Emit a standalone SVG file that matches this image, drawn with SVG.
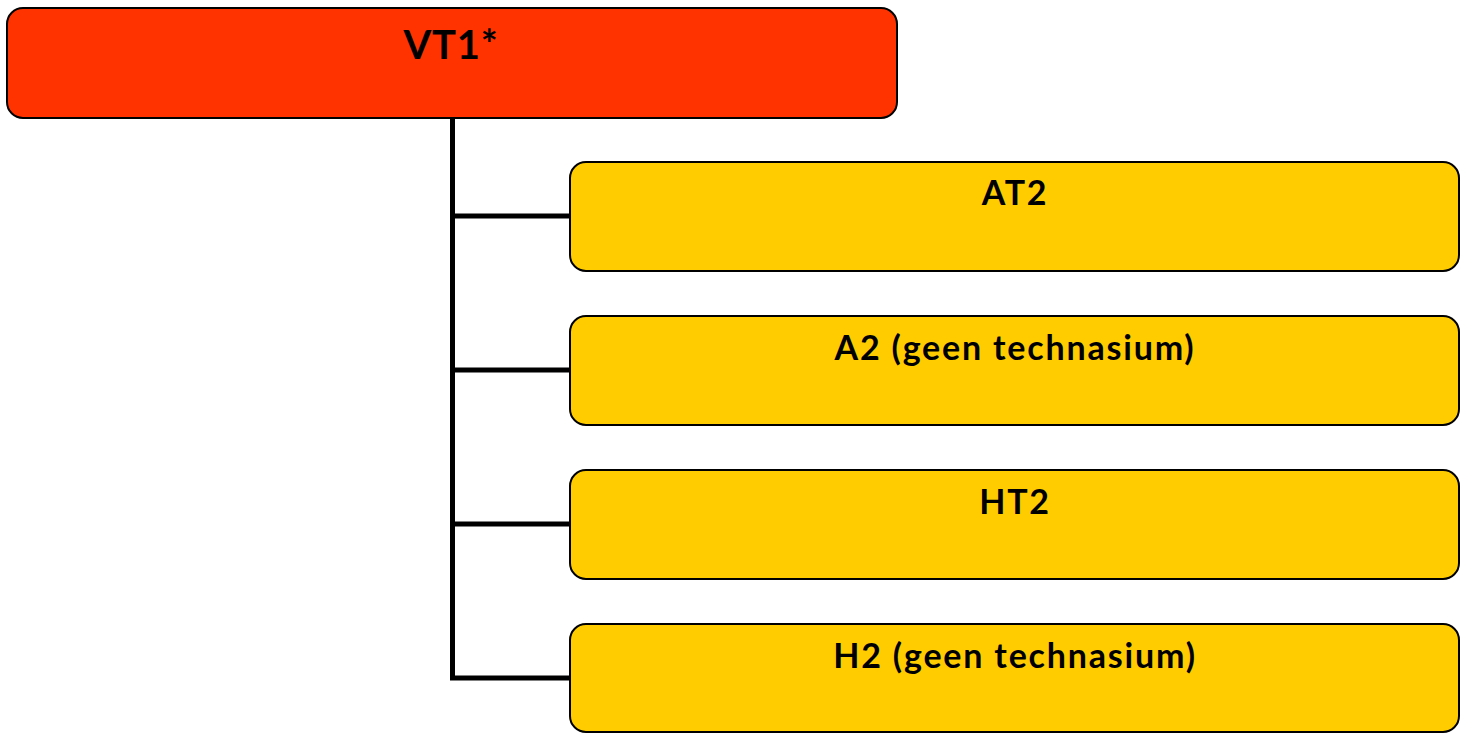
<svg xmlns="http://www.w3.org/2000/svg" width="1469" height="733" viewBox="0 0 1469 733">
<style>
.root{fill:#FF3300;stroke:#000;stroke-width:2}
.child{fill:#FFCC00;stroke:#000;stroke-width:2}
.lbl{font-family:Lato,"Liberation Sans",sans-serif;font-weight:bold;fill:#000;text-anchor:middle}
.sub{font-size:34px;letter-spacing:1.8px}
.conn{stroke:#000;stroke-width:5;fill:none}
</style>
<rect width="1469" height="733" fill="#fff"/>
<g id="connectors">
<path class="conn" d="M452.5,118 V678 H570"/>
<path class="conn" d="M452.5,216 H570"/>
<path class="conn" d="M452.5,370 H570"/>
<path class="conn" d="M452.5,524 H570"/>
</g>
<g id="node-vt1">
<rect class="root" x="7" y="8" width="890" height="110" rx="16"/>
<text class="lbl" x="451" y="59" font-size="40" letter-spacing="0.8">VT1*</text>
</g>
<g id="node-at2">
<rect class="child" x="570" y="162" width="889" height="109" rx="16"/>
<text class="lbl sub" x="1015" y="205">AT2</text>
</g>
<g id="node-a2">
<rect class="child" x="570" y="316" width="889" height="109" rx="16"/>
<text class="lbl sub" x="1015" y="360">A2 (geen technasium)</text>
</g>
<g id="node-ht2">
<rect class="child" x="570" y="470" width="889" height="109" rx="16"/>
<text class="lbl sub" x="1015" y="514">HT2</text>
</g>
<g id="node-h2">
<rect class="child" x="570" y="624" width="889" height="108" rx="16"/>
<text class="lbl sub" x="1015" y="668">H2 (geen technasium)</text>
</g>
</svg>
